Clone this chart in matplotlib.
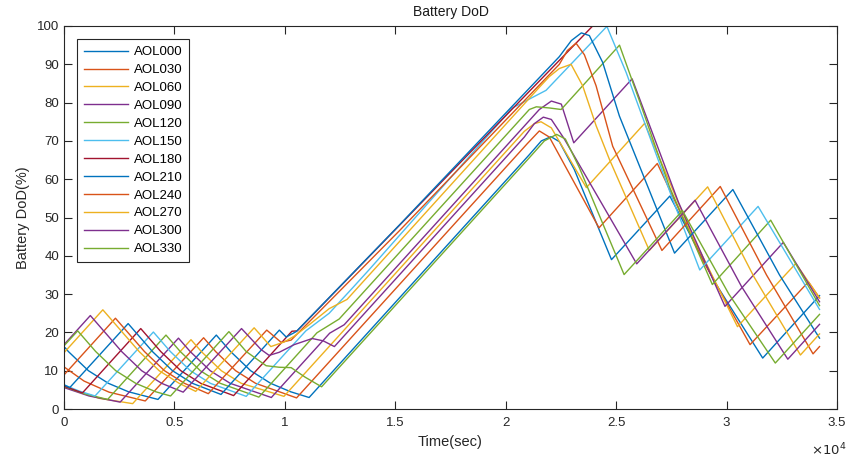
import numpy as np
import matplotlib
matplotlib.use('Agg')
from matplotlib import pyplot as plt

plt.rcParams['font.family'] = ['Liberation Sans', 'DejaVu Sans']

# time (sec) / DoD (%) vertices, one pair of lists per AOL
t_aol000 = [0, 50, 199, 1106, 2012, 2918, 4255, 6896, 7544, 8450, 9357, 10263, 11097, 21069, 21613, 22052, 22428, 23108, 24789, 27431, 29533, 31636, 34209]
d_aol000 = [15.7, 16.0, 15.0, 10.0, 6.7, 4.5, 2.5, 19.3, 15.0, 10.0, 6.7, 4.5, 3.0, 66.4, 70.0, 71.1, 69.8, 62.5, 39.0, 55.6, 32.5, 13.3, 29.6]

t_aol030 = [0, 906, 2039, 3679, 6321, 6865, 7771, 8677, 10530, 20979, 21522, 21975, 24223, 26864, 28953, 31064, 33706, 34209]
d_aol030 = [11.0, 7.3, 4.4, 2.1, 18.6, 15.0, 10.0, 6.7, 2.9, 69.3, 72.6, 71.0, 47.3, 64.1, 38.5, 16.8, 33.2, 29.0]

t_aol060 = [0, 1586, 3108, 5750, 6217, 7123, 8029, 9959, 12601, 20843, 21296, 21599, 22066, 23652, 26293, 28391, 30494, 33136, 34209]
d_aol060 = [5.8, 2.8, 1.4, 18.1, 15.0, 10.0, 6.7, 3.3, 20.1, 72.5, 74.5, 75.0, 73.4, 57.8, 74.6, 46.0, 21.5, 38.0, 29.0]

t_aol090 = [0, 1133, 2542, 5183, 5714, 6620, 7526, 9388, 12030, 12687, 21522, 22066, 22519, 23081, 25723, 27820, 29927, 32569, 34209]
d_aol090 = [5.6, 3.4, 1.8, 18.5, 15.0, 10.0, 6.7, 3.0, 19.8, 22.0, 78.2, 80.4, 79.6, 69.5, 86.2, 54.0, 26.8, 43.5, 28.0]

t_aol120 = [0, 906, 1976, 4617, 5265, 6171, 7077, 8822, 11454, 12460, 21069, 21386, 21975, 22510, 25152, 26053, 27413, 29356, 31998, 34209]
d_aol120 = [5.9, 4.0, 2.5, 19.3, 15.0, 10.0, 6.7, 3.1, 19.9, 23.5, 78.2, 78.9, 78.6, 78.2, 95.0, 80.5, 58.0, 32.5, 49.3, 27.0]

t_aol150 = [0, 680, 1405, 4046, 4816, 5723, 6629, 8251, 10045, 10951, 12007, 13063, 13820, 20299, 21826, 24581, 25451, 27562, 28786, 31427, 34209]
d_aol150 = [6.3, 4.7, 3.4, 20.1, 15.0, 10.0, 6.7, 3.3, 14.7, 20.4, 25.0, 31.6, 36.4, 78.6, 83.2, 99.9, 87.9, 54.7, 36.3, 52.9, 26.0]

t_aol180 = [0, 834, 3475, 4381, 5288, 6194, 7680, 10317, 10557, 15179, 23937, 34209]
d_aol180 = [6.0, 4.2, 21.0, 15.0, 10.0, 6.7, 3.5, 20.3, 20.4, 47.9, 100.0, 100.0]

t_aol210 = [0, 263, 2904, 4005, 4912, 5818, 7109, 9751, 10059, 10512, 15179, 22428, 22972, 23425, 23788, 24390, 25147, 27644, 30285, 32397, 34209]
d_aol210 = [6.3, 5.6, 22.3, 15.0, 10.0, 6.7, 3.8, 20.6, 18.8, 20.2, 48.0, 92.0, 96.2, 98.2, 97.5, 90.5, 76.5, 40.7, 57.3, 35.0, 18.5]

t_aol240 = [0, 2329, 3643, 4549, 5455, 6534, 9180, 9833, 10285, 15179, 22428, 22791, 23185, 23561, 24091, 24844, 27073, 29714, 31808, 33915, 34209]
d_aol240 = [8.9, 23.7, 15.0, 10.0, 6.7, 4.0, 20.6, 17.4, 18.0, 46.5, 90.0, 93.6, 95.5, 92.5, 84.4, 68.6, 41.4, 58.1, 35.0, 14.4, 16.3]

t_aol270 = [0, 1758, 3403, 4309, 5215, 5963, 8609, 9366, 9968, 10421, 11101, 12007, 12814, 21522, 21975, 22428, 22959, 23484, 24091, 24694, 26502, 29143, 31241, 33344, 34209]
d_aol270 = [14.7, 25.9, 15.0, 10.0, 6.7, 4.6, 21.2, 16.3, 17.5, 19.0, 22.0, 26.2, 28.6, 84.0, 86.8, 88.9, 90.0, 84.4, 74.0, 65.2, 41.4, 58.0, 34.5, 14.1, 19.6]

t_aol300 = [0, 1192, 2610, 3516, 4422, 5396, 8038, 8926, 9288, 9742, 10421, 11237, 11735, 12243, 20842, 21296, 21703, 22066, 22655, 25931, 28573, 30675, 32773, 34209]
d_aol300 = [16.8, 24.4, 15.0, 10.0, 6.7, 4.4, 21.0, 15.5, 14.0, 14.8, 16.8, 18.4, 17.8, 16.3, 71.0, 74.5, 76.2, 75.6, 70.5, 37.9, 54.5, 32.0, 13.0, 22.1]

t_aol330 = [0, 621, 1436, 2343, 3249, 4155, 4826, 7467, 8251, 9153, 9742, 10285, 10920, 11663, 21069, 21749, 22306, 22700, 23335, 25360, 28002, 30104, 32207, 34209]
d_aol330 = [16.5, 20.4, 15.0, 10.0, 6.7, 4.5, 3.4, 20.2, 15.0, 11.3, 10.9, 10.8, 8.3, 5.8, 65.6, 70.0, 71.7, 70.5, 63.0, 35.1, 51.8, 30.0, 12.0, 24.7]

labels = ['AOL000', 'AOL030', 'AOL060', 'AOL090', 'AOL120', 'AOL150',
          'AOL180', 'AOL210', 'AOL240', 'AOL270', 'AOL300', 'AOL330']
times = [t_aol000, t_aol030, t_aol060, t_aol090, t_aol120, t_aol150,
         t_aol180, t_aol210, t_aol240, t_aol270, t_aol300, t_aol330]
dods = [d_aol000, d_aol030, d_aol060, d_aol090, d_aol120, d_aol150,
        d_aol180, d_aol210, d_aol240, d_aol270, d_aol300, d_aol330]

# matlab default line colours
colors = ['#0072BD', '#D95319', '#EDB120', '#7E2F8E', '#77AC30', '#4DBEEE', '#A2142F']

fig = plt.figure(figsize=(8.47, 4.59), dpi=100)
ax = fig.add_axes([64/847, 1-409/459, 773/847, 383/459])

for i in range(len(labels)):
    ax.plot(times[i], dods[i], color=colors[i % 7], lw=1.0, label=labels[i])

ax.set_xlim(0, 35000)
ax.set_ylim(0, 100)
ax.set_xticks(np.arange(0, 35001, 5000))
ax.set_xticklabels(['0', '0.5', '1', '1.5', '2', '2.5', '3', '3.5'])
ax.set_yticks(np.arange(0, 101, 10))
ax.tick_params(direction='in', top=True, right=True, length=5.5, width=0.8,
               labelsize=9.5, colors='#262626')
ax.tick_params(axis='x', pad=6)
for s in ax.spines.values():
    s.set_color('#262626')
    s.set_linewidth(0.8)

ax.text(1.012, -0.085, r'$\times10^{4}$', transform=ax.transAxes, ha='right',
        va='top', fontsize=9.5, color='#262626')

ax.set_title('Battery DoD', fontsize=10, pad=7, color='#1a1a1a')
ax.set_xlabel('Time(sec)', fontsize=10.5, color='#262626', labelpad=4)
ax.set_ylabel('Battery DoD(%)', fontsize=10.5, color='#262626', labelpad=5)

leg = ax.legend(loc='upper left', bbox_to_anchor=(0.0168, 0.965), borderaxespad=0,
                fontsize=9.5, handlelength=3.4, labelspacing=0.43, handletextpad=0.4,
                borderpad=0.5, fancybox=False, framealpha=1)
leg.get_frame().set_edgecolor('#262626')
leg.get_frame().set_linewidth(0.8)

fig.savefig('out.png', dpi=100)
